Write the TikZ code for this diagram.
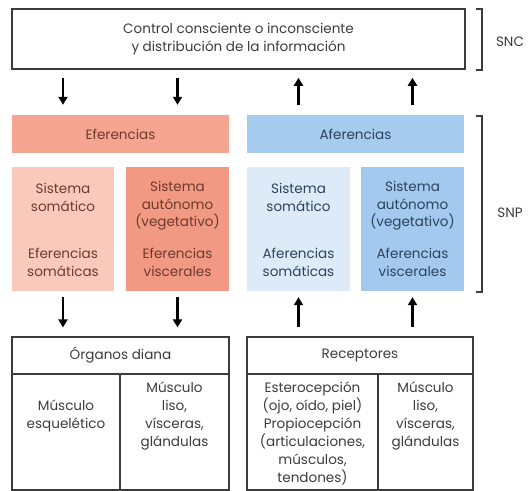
\documentclass[tikz,border=0pt]{standalone}
\usepackage{fontspec}
\setmainfont{Poppins}
\usetikzlibrary{arrows.meta}
\definecolor{efeBarra}{HTML}{F6A592}
\definecolor{efeSoma}{HTML}{F9CABB}
\definecolor{efeVisc}{HTML}{F29983}
\definecolor{afeBarra}{HTML}{A5CBEF}
\definecolor{afeSoma}{HTML}{DDEBF8}
\definecolor{afeVisc}{HTML}{A3CAEE}
\definecolor{efeTexto}{HTML}{6E3A2C}
\definecolor{afeTexto}{HTML}{2B435C}
\definecolor{gris}{HTML}{3C3C3C}
\begin{document}
\begin{tikzpicture}[x=1bp, y=-1bp, font=\fontsize{13.6}{18}\selectfont, text=gris]
\tikzstyle{caja} = [draw=gris, line width=1.2bp, inner sep=0pt, align=center]
\tikzstyle{barra} = [inner sep=0pt, minimum height=38bp, minimum width=217bp]
\tikzstyle{bloque} = [inner sep=0pt, minimum height=124bp, minimum width=103bp]
\tikzstyle{rotulo} = [align=center, inner sep=0pt]
\tikzstyle{flecha} = [line width=2.4bp, -{Triangle[width=9bp,length=8bp]}]
\tikzstyle{llave} = [draw=gris, line width=1.1bp]
\useasboundingbox (0,0) rectangle (528,491);
\node[caja, line width=1.6bp, minimum width=453bp, minimum height=60bp] (snc) at (238.5,39) {Control consciente o inconsciente\\y distribución de la información};
\node[barra, fill=efeBarra, text=efeTexto] (efe) at (120.5,134) {Eferencias};
\node[barra, fill=afeBarra, text=afeTexto] (afe) at (355.5,134) {Aferencias};
\node[bloque, fill=efeSoma, minimum width=102bp] (es) at (63,229) {};
\node[bloque, fill=efeVisc] (ev) at (177.5,229) {};
\node[bloque, fill=afeSoma] (as) at (298.5,229) {};
\node[bloque, fill=afeVisc] (av) at (412.5,229) {};
\node[rotulo, text=efeTexto] (es1) at (63,197.5) {Sistema\\somático};
\node[rotulo, text=efeTexto] (es2) at (63,262.5) {Eferencias\\somáticas};
\node[rotulo, text=efeTexto] (ev1) at (177.5,205.7) {Sistema\\autónomo\\(vegetativo)};
\node[rotulo, text=efeTexto] (ev2) at (177.5,262.5) {Eferencias\\viscerales};
\node[rotulo, text=afeTexto] (as1) at (298.5,197.5) {Sistema\\somático};
\node[rotulo, text=afeTexto] (as2) at (298.5,262.5) {Aferencias\\somáticas};
\node[rotulo, text=afeTexto] (av1) at (412.5,205.7) {Sistema\\autónomo\\(vegetativo)};
\node[rotulo, text=afeTexto] (av2) at (412.5,262.5) {Aferencias\\viscerales};
% organos diana y receptores
\node[caja, minimum width=217bp, minimum height=37bp] (org) at (120.5,355.5) {Órganos diana};
\node[caja, minimum width=108bp, minimum height=116bp] (org1) at (66,432) {};
\node[caja, minimum width=109bp, minimum height=116bp] (org2) at (174.5,432) {};
\node[caja, minimum width=226bp, minimum height=37bp] (rec) at (360,355.5) {Receptores};
\node[caja, minimum width=131bp, minimum height=116bp] (rec1) at (312.5,432) {};
\node[caja, minimum width=95bp, minimum height=116bp] (rec2) at (425.5,432) {};
\node[rotulo] (org1t) at (66,416) {Músculo\\esquelético};
\node[rotulo] (org2t) at (174.5,416) {Músculo\\liso,\\vísceras,\\glándulas};
\node[rotulo] (rec1t) at (312.5,433.5) {Esterocepción\\(ojo, oído, piel)\\Propiocepción\\(articulaciones,\\músculos,\\tendones)};
\node[rotulo] (rec2t) at (425.5,416) {Músculo\\liso,\\vísceras,\\glándulas};
% flechas
\draw[flecha, shorten <=8bp, shorten >=10bp] (snc.south -| es) -- (efe.north -| es);
\draw[flecha, shorten <=8bp, shorten >=10bp] (snc.south -| ev) -- (efe.north -| ev);
\draw[flecha, shorten <=10bp, shorten >=8bp] (afe.north -| as) -- (snc.south -| as);
\draw[flecha, shorten <=10bp, shorten >=8bp] (afe.north -| av) -- (snc.south -| av);
\draw[flecha, shorten <=6bp, shorten >=9bp] (es.south) -- (org.north -| es);
\draw[flecha, shorten <=6bp, shorten >=9bp] (ev.south) -- (org.north -| ev);
\draw[flecha, shorten <=9bp, shorten >=6bp] (rec.north -| as) -- (as.south);
\draw[flecha, shorten <=9bp, shorten >=6bp] (rec.north -| av) -- (av.south);
% llaves
\draw[llave] (476,9) -- (482,9) -- (482,70) -- (476,70);
\draw[llave] (476,116) -- (482,116) -- (482,292) -- (476,292);
\node (lsnc) at (510,42) {SNC};
\node (lsnp) at (510,213) {SNP};
\end{tikzpicture}
\end{document}
